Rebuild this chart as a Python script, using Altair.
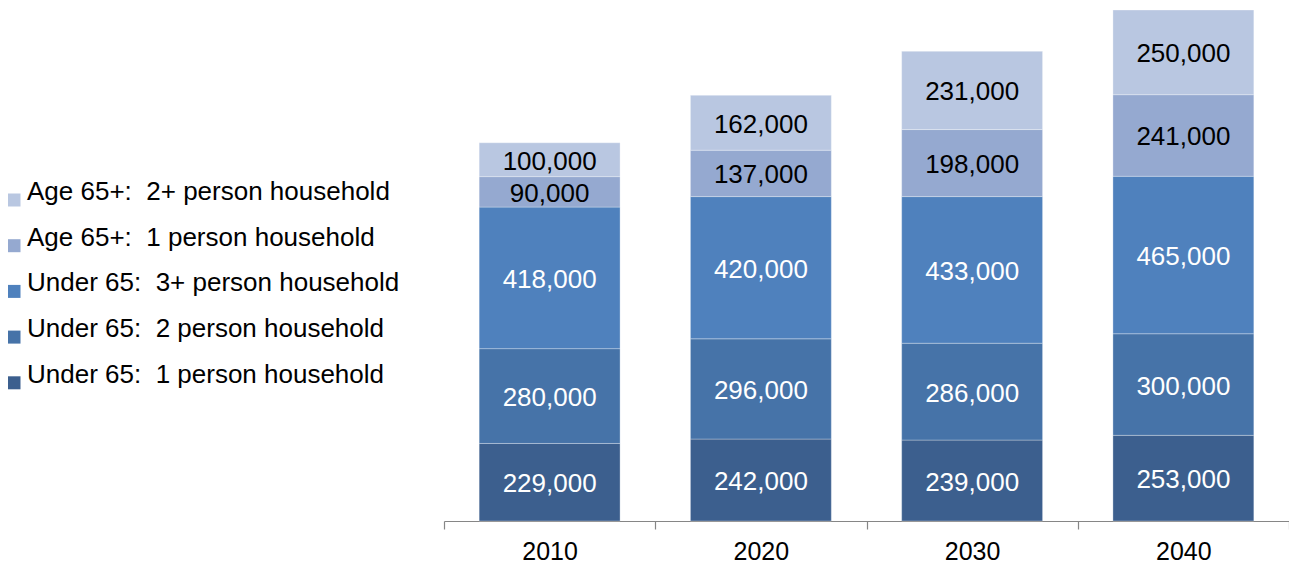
import altair as alt
import pandas as pd

years = ["2010", "2020", "2030", "2040"]
categories = [
    "Under 65:\u00a0 1 person household",
    "Under 65:\u00a0 2 person household",
    "Under 65:\u00a0 3+ person household",
    "Age 65+:\u00a0 1 person household",
    "Age 65+:\u00a0 2+ person household",
]
under65_1 = [229000, 242000, 239000, 253000]
under65_2 = [280000, 296000, 286000, 300000]
under65_3 = [418000, 420000, 433000, 465000]
age65_1 = [90000, 137000, 198000, 241000]
age65_2 = [100000, 162000, 231000, 250000]
series = [under65_1, under65_2, under65_3, age65_1, age65_2]
colors = ["#3C5F8E", "#4673A8", "#4F81BD", "#95A9D0", "#B9C7E1"]
text_colors = ["white", "white", "white", "black", "black"]

rows = []
for ci, (cat, vals) in enumerate(zip(categories, series)):
    for y, v in zip(years, vals):
        rows.append({"year": y, "category": cat, "value": v, "order": ci,
                     "tcolor": text_colors[ci]})
df = pd.DataFrame(rows)

FONT = "Liberation Sans"
FS = 26

x_scale = alt.Scale(paddingInner=0, paddingOuter=0)
x_enc = alt.X("year:N", title=None, scale=x_scale,
              axis=alt.Axis(labelAngle=0, labelFontSize=25, labelFont=FONT,
                            labelColor="black", domainColor="#868686",
                            tickColor="#868686", tickSize=8, tickBand="extent",
                            labelPadding=10, domainWidth=1.2, tickWidth=1.2))
y_scale = alt.Scale(domain=[0, 1515000], nice=False)

bars = alt.Chart(df).mark_bar(
    width=alt.RelativeBandSize(0.667),
    stroke="white", strokeWidth=0.6, strokeOpacity=0.5
).encode(
    x=x_enc,
    y=alt.Y("value:Q", stack="zero", scale=y_scale, axis=None),
    color=alt.Color("category:N",
                    scale=alt.Scale(domain=categories[::-1], range=colors[::-1]),
                    legend=alt.Legend(title=None, orient="none", legendX=-443,
                                      legendY=179, labelFont=FONT, labelFontSize=FS,
                                      labelColor="black", symbolType="square",
                                      symbolSize=169, symbolStrokeWidth=0,
                                      rowPadding=17.7, padding=0, labelOffset=0,
                                      labelBaseline="alphabetic", labelLimit=500)),
    order=alt.Order("order:Q", sort="ascending"),
)

labels = alt.Chart(df).transform_stack(
    stack="value", groupby=["year"], sort=[alt.SortField("order", "ascending")],
    as_=["y0", "y1"]
).transform_calculate(
    mid="(datum.y0 + datum.y1) / 2"
).mark_text(font=FONT, fontSize=FS, baseline="middle", dy=2).encode(
    x=alt.X("year:N", scale=x_scale),
    y=alt.Y("mid:Q", scale=y_scale, axis=None),
    text=alt.Text("value:Q", format=","),
    color=alt.Color("tcolor:N", scale=None),
)

chart = alt.layer(bars, labels).properties(
    width=845, height=513,
    autosize=alt.AutoSizeParams(type="none"),
    padding={"left": 436, "top": 0, "right": 0, "bottom": 45},
).configure_view(strokeWidth=0)

chart.save("out.html", embed_options={"renderer": "svg", "actions": False})
